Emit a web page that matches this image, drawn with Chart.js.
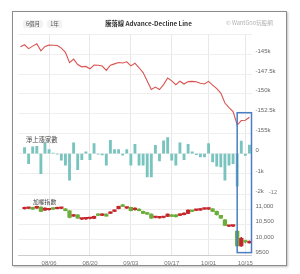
<!DOCTYPE html>
<html>
<head>
<meta charset="utf-8">
<script src="https://cdn.jsdelivr.net/npm/chart.js@4.4.1/dist/chart.umd.min.js"></script>
<style>
  html, body { margin: 0; padding: 0; background: #fff; }
  #wrap { position: relative; width: 300px; height: 274px; overflow: hidden; font-family: "Liberation Sans", Arial, "Noto Sans CJK TC", sans-serif; }
  #frame { position: absolute; left: 12px; top: 11px; width: 273px; height: 253px; border: 1px solid #8c8c8c; box-shadow: 1px 1px 2px rgba(0, 0, 0, 0.25); }
  #adChart { position: absolute; left: 0; top: 0; }
  .txt { position: absolute; white-space: nowrap; }
  .btn { top: 20px; height: 8px; line-height: 8px; font-size: 5.5px; color: #555; background: #f2f2f2; border-radius: 2px; text-align: center; font-family: "Noto Sans CJK TC", sans-serif; }
</style>
</head>
<body>
<div id="wrap">
  <div id="frame"></div>
  <canvas id="adChart" width="300" height="274"></canvas>
  <div class="txt btn" style="left:23px; width:20px;">6個月</div>
  <div class="txt btn" style="left:47px; width:15px;">1年</div>
  <div class="txt" style="left:0; width:297px; top:19px; text-align:center; font-size:6.3px; font-weight:bold; color:#333; font-family:'Noto Sans CJK TC', sans-serif;">騰落線 Advance-Decline Line</div>
  <div class="txt" style="left:226px; top:19px; font-size:5.6px; color:#b0b0b0; font-family:'Noto Sans CJK TC', sans-serif;">© WantGoo玩股網</div>
  <div class="txt" style="left:26px; top:135px; font-size:6.3px; color:#444; font-family:'Noto Sans CJK TC', sans-serif;">淨上漲家數</div>
  <div class="txt" style="left:33px; top:197px; font-size:5.8px; color:#444; font-family:'Noto Sans CJK TC', sans-serif;">加權指數</div>
  <div class="txt" style="left:269px; top:189px; font-size:5.5px; color:#777;">-12</div>
</div>
<script>
// Trading days shown on the chart
const dates = ['07/26','07/27','07/30','07/31','08/01','08/02','08/03','08/06','08/07','08/08',
  '08/09','08/10','08/13','08/14','08/15','08/16','08/17','08/20','08/21','08/22',
  '08/23','08/24','08/27','08/28','08/29','08/30','08/31','09/03','09/04','09/05',
  '09/06','09/07','09/10','09/11','09/12','09/13','09/14','09/17','09/18','09/19',
  '09/20','09/21','09/25','09/26','09/27','09/28','10/01','10/02','10/03','10/04',
  '10/05','10/08','10/09','10/11','10/12','10/15','10/16'];

// Dates that get a label and a vertical grid line
const tickDates = ['08/06', '08/20', '09/03', '09/17', '10/01', '10/15'];

// Advance-decline line
const adLine = [-144060, -143800, -144290, -143970, -143670, -144570, -144010, -143850, -143860, -143900,
  -144220, -144760, -146060, -145610, -146300, -146590, -146540, -146840, -146370, -146390,
  -146490, -147040, -146390, -146220, -146050, -146100, -145960, -146470, -146130, -146710,
  -147320, -148390, -149470, -149150, -149470, -148840, -148010, -148370, -148860, -148410,
  -148770, -148460, -148430, -148490, -148660, -148770, -148430, -148900, -149340, -149910,
  -151180, -151750, -152250, -153960, -153390, -153350, -152970];

// Net advancing issues (淨上漲家數)
const netAdvance = [null, 295, -491, 329, 359, -983, 526, 197, 20, -25,
  -329, -575, -1312, 526, -786, -295, 84, -295, 491, -30,
  -60, -575, 654, 197, 197, -84, 197, -575, 457, -575,
  -575, -1145, -1145, 408, -359, 624, 786, -329, -575, 526,
  -295, 457, 84, -50, -162, -162, 491, -408, -624, -654,
  -1312, -575, -491, -1600, 620, -90, 420];

// TAIEX candles (加權指數)
const indexOpen = [null, 11023, 11034, 11067, 11045, 11078, 10979, 10990, 11034, 11023,
  11034, 11023, 10957, 10782, 10826, 10680, 10690, 10702, 10705, 10848,
  10804, 10848, 10869, 10935, 11023, 11155, 11045, 11067, 10990, 11012,
  10935, 10891, 10848, 10735, 10724, 10735, 10771, 10826, 10826, 10804,
  10826, 10869, 10957, 10968, 10979, 11012, 11012, 11023, 10935, 10804,
  10661, 10448, 10450, 10290, 9800, 9960, 9900];
const indexHigh = [null, 11080, 11070, 11075, 11110, 11085, 11055, 11035, 11045, 11075,
  11065, 11030, 10965, 10835, 10835, 10705, 10715, 10725, 10780, 10855,
  10860, 10855, 10925, 10990, 11110, 11165, 11080, 11075, 11055, 11020,
  10945, 10900, 10855, 10760, 10745, 10760, 10855, 10835, 10830, 10855,
  10890, 10985, 10965, 11000, 11030, 11040, 11055, 11030, 10945, 10810,
  10670, 10480, 10480, 10300, 10080, 9990, 9965];
const indexLow = [null, 11010, 11025, 11000, 11035, 10925, 10970, 10980, 11005, 11015,
  11025, 10950, 10725, 10770, 10705, 10665, 10675, 10690, 10695, 10795,
  10795, 10775, 10860, 10925, 11015, 11090, 11035, 10950, 10980, 10950,
  10860, 10840, 10705, 10720, 10710, 10720, 10765, 10765, 10750, 10795,
  10820, 10860, 10925, 10960, 10970, 11005, 11005, 10925, 10815, 10705,
  10465, 10430, 10432, 9780, 9780, 9900, 9890];
const indexClose = [null, 11067, 11056, 11012, 11100, 10935, 11045, 11023, 11012, 11067,
  11056, 10957, 10738, 10826, 10716, 10686, 10697, 10708, 10771, 10804,
  10848, 10782, 10913, 10979, 11100, 11100, 11067, 10957, 11045, 10957,
  10869, 10848, 10716, 10741, 10730, 10741, 10848, 10771, 10760, 10848,
  10881, 10979, 10935, 10990, 11023, 11030, 11045, 10935, 10826, 10716,
  10475, 10458, 10460, 9800, 10050, 9930, 9950];

// Highlighted range (blue box)
const highlightFrom = '10/11';
const highlightTop = -152400;
const highlightBottom = 9580;

const UP_COLOR = '#c4262c';
const DOWN_COLOR = '#6aae3a';

// Function to pick candle colour (red up, green down)
const candleColor = (i) => (indexClose[i] >= indexOpen[i] ? UP_COLOR : DOWN_COLOR);

const tickFont = { family: '"Liberation Sans", Arial, sans-serif', size: 6 };

// Plugin that draws the blue highlight box over the last days
const highlightBox = {
  id: 'highlightBox',
  afterDatasetsDraw(chart) {
    const { ctx, chartArea, scales } = chart;
    const left = scales.x.getPixelForValue(dates.indexOf(highlightFrom));
    const top = scales.yL.getPixelForValue(highlightTop);
    const bottom = scales.yC.getPixelForValue(highlightBottom);
    ctx.save();
    ctx.strokeStyle = '#4a7dc4';
    ctx.lineWidth = 1.5;
    ctx.strokeRect(left, top, chartArea.right - left, bottom - top);
    ctx.restore();
  },
};

// Shared options for the three stacked right-hand y axes
const panelAxis = (weight, min, max, step, format) => ({
  position: 'right',
  stack: 'panels',
  stackWeight: weight,
  min: min,
  max: max,
  grid: { color: '#eeeeee', drawTicks: false },
  border: { display: false },
  ticks: {
    stepSize: step,
    autoSkip: false,
    padding: 4,
    labelOffset: -3,
    color: '#666',
    font: tickFont,
    // top tick of every panel has no label
    callback: (v) => (v === max ? '' : format(v)),
  },
  afterFit: (axis) => { axis.width = 34; },
});

const ctx = document.getElementById('adChart').getContext('2d');

new Chart(ctx, {
  type: 'bar',
  data: {
    labels: dates,
    datasets: [
      {
        type: 'line',
        label: '騰落線',
        data: adLine,
        yAxisID: 'yL',
        borderColor: '#d9534f',
        borderWidth: 1.1,
        pointRadius: 0,
        tension: 0,
      },
      {
        label: '淨上漲家數',
        data: netAdvance,
        yAxisID: 'yB',
        backgroundColor: '#79c4be',
        barThickness: 2.2,
        grouped: false,
      },
      {
        label: 'wick',
        data: indexLow.map((l, i) => (l === null ? null : [l, indexHigh[i]])),
        yAxisID: 'yC',
        backgroundColor: (c) => candleColor(c.dataIndex),
        barThickness: 1,
        grouped: false,
        order: 2,
      },
      {
        label: '加權指數',
        data: indexOpen.map((o, i) => (o === null ? null : [o, indexClose[i]])),
        yAxisID: 'yC',
        backgroundColor: (c) => candleColor(c.dataIndex),
        barThickness: 3.6,
        minBarLength: 1.5,
        grouped: false,
        order: 1,
      },
    ],
  },
  options: {
    responsive: false,
    animation: false,
    events: [],
    layout: { padding: { left: 18.4, right: 14.5, top: 34.5, bottom: 8.95 } },
    plugins: { legend: { display: false }, tooltip: { enabled: false }, title: { display: false } },
    scales: {
      x: {
        type: 'category',
        offset: true,
        grid: { offset: false, color: '#e8e8e8', drawTicks: false },
        border: { color: '#cccccc' },
        ticks: { autoSkip: false, maxRotation: 0, padding: 5, color: '#777', font: tickFont },
        afterBuildTicks: (axis) => {
          axis.ticks = axis.ticks.filter((t) => tickDates.includes(dates[t.value]));
        },
        afterFit: (axis) => { axis.height = 10; },
      },
      yL: panelAxis(98.75, -155000, -142500, 2500, (v) => v / 1000 + 'k'),
      yB: panelAxis(61, -2000, 1000, 1000, (v) => (v === 0 ? '0' : v / 1000 + 'k')),
      yC: panelAxis(60.8, 9500, 11500, 500, (v) => (v >= 10000 ? v.toLocaleString('en-US') : String(v))),
    },
  },
  plugins: [highlightBox],
});
</script>
</body>
</html>
